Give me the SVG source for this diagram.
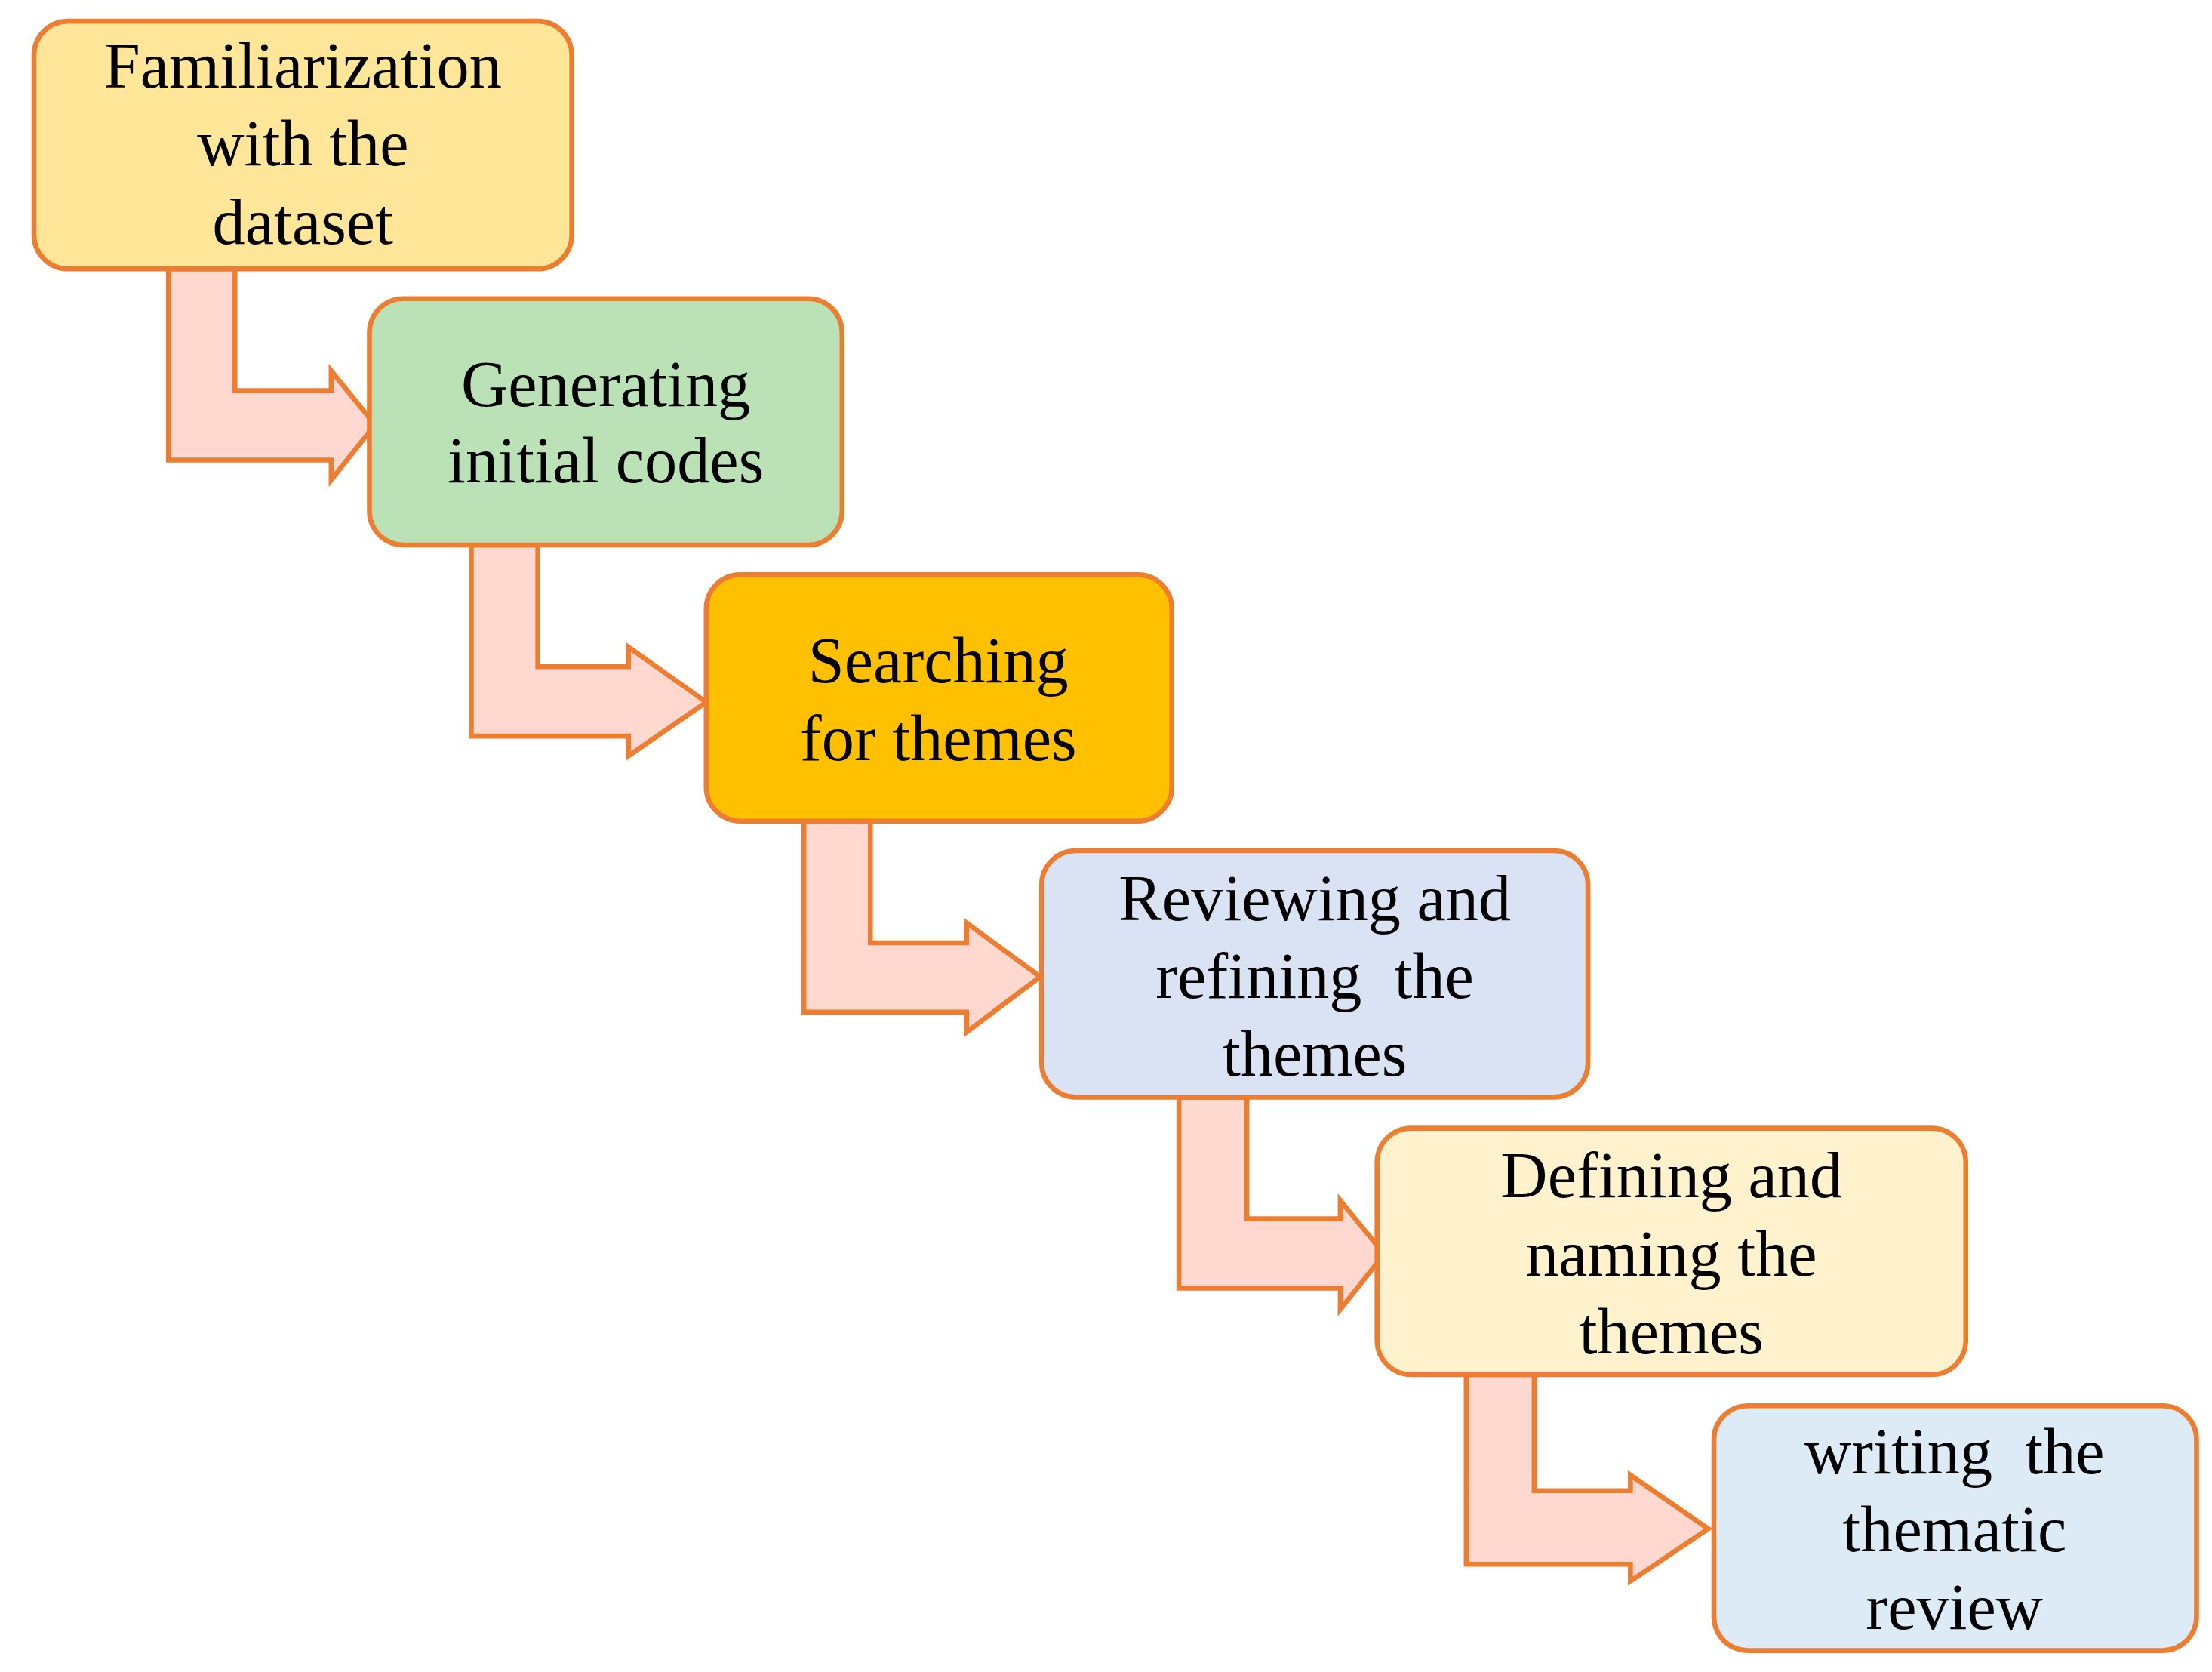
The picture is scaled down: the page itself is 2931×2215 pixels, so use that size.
<svg xmlns="http://www.w3.org/2000/svg" width="2931" height="2215" viewBox="0 0 2931 2215">
<style>
.b{stroke:#ED7D31;stroke-width:3.5}
.a{fill:#FFD9CF;stroke:#ED7D31;stroke-width:3.5;stroke-linejoin:miter}
text{font-family:"Liberation Serif","Times New Roman",serif;font-size:46px;fill:#000;text-anchor:middle}
</style>
<rect width="2931" height="2215" fill="#fff"/>
<g transform="scale(1.8753)">
<g id="connectors">
<path class="a" d="M119,190 L166,190 L166,276 L234,276 L234,262 L265,300 L234,339 L234,325 L119,325 Z"/>
<path class="a" d="M333,385 L380,385 L380,471 L444,471 L444,457 L499,496 L444,534 L444,520 L333,520 Z"/>
<path class="a" d="M568,580 L615,580 L615,666 L683,666 L683,652 L735,690 L683,729 L683,715 L568,715 Z"/>
<path class="a" d="M833,775 L881,775 L881,861 L947,861 L947,848 L978,886 L947,925 L947,910 L833,910 Z"/>
<path class="a" d="M1036,971 L1084,971 L1084,1053 L1152,1053 L1152,1042 L1207,1080 L1152,1117 L1152,1105 L1036,1105 Z"/>
</g>
<g id="n1"><rect class="b" x="24" y="15" width="380" height="175" rx="24" fill="#FFE699"/>
<text x="214" y="62">Familiarization</text><text x="214" y="117">with the</text><text x="214" y="172">dataset</text></g>
<g id="n2"><rect class="b" x="261" y="211" width="334" height="174" rx="24" fill="#BBE2B6"/>
<text x="428" y="287">Generating</text><text x="428" y="341">initial codes</text></g>
<g id="n3"><rect class="b" x="499" y="406" width="329" height="174" rx="24" fill="#FFC000"/>
<text x="663" y="482">Searching</text><text x="663" y="537">for themes</text></g>
<g id="n4"><rect class="b" x="736" y="601" width="386" height="174" rx="24" fill="#DAE3F3"/>
<text x="929" y="650">Reviewing and</text><text x="929" y="705" xml:space="preserve">refining  the</text><text x="929" y="760">themes</text></g>
<g id="n5"><rect class="b" x="973" y="797" width="416" height="174" rx="24" fill="#FFF2CC"/>
<text x="1181" y="846">Defining and</text><text x="1181" y="901">naming the</text><text x="1181" y="956">themes</text></g>
<g id="n6"><rect class="b" x="1211" y="993" width="341" height="173" rx="24" fill="#DDEBF7"/>
<text x="1381" y="1041" xml:space="preserve">writing  the</text><text x="1381" y="1096">thematic</text><text x="1381" y="1151">review</text></g>
</g>
</svg>
